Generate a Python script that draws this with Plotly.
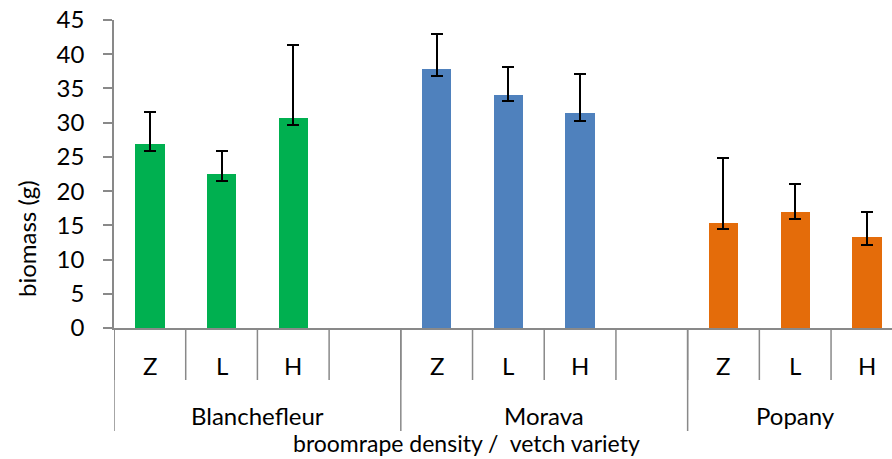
import plotly.graph_objects as go

# Mean shoot biomass (g) per vetch variety and broomrape density, with error ranges
varieties = ["Blanchefleur", "Morava", "Popany"]
densities = ["Z", "L", "H"]
colors = ["#00B050", "#4F81BD", "#E46C0A"]

biomass = {
    "Blanchefleur": [26.9, 22.5, 30.7],
    "Morava": [37.8, 34.1, 31.4],
    "Popany": [15.4, 17.0, 13.3],
}
err_plus = {
    "Blanchefleur": [4.7, 3.4, 10.7],
    "Morava": [5.1, 4.1, 5.7],
    "Popany": [9.5, 4.1, 3.7],
}
err_minus = {
    "Blanchefleur": [1.0, 1.0, 1.1],
    "Morava": [1.0, 1.0, 1.1],
    "Popany": [1.0, 1.1, 1.1],
}
y_ticks = [0, 5, 10, 15, 20, 25, 30, 35, 40, 45]

W, H = 892, 459
M_L, M_R, M_T, M_B = 114, 0, 20, 131
plot_h = H - M_T - M_B
plot_w = W - M_L - M_R
slots_per_group = len(densities) + 1  # one empty slot between varieties
n_slots = slots_per_group * (len(varieties) - 1) + len(densities)
x_min, x_max = -0.5, 10.35

GRAY = "#898989"
FONT = "Lato"
FS = 24


def py(pixel_y):
    """Pixel row -> paper y coordinate (relative to plot area)."""
    return (H - M_B - pixel_y) / plot_h


def px(pixel_x):
    """Pixel column -> paper x coordinate (relative to plot area)."""
    return (pixel_x - M_L) / plot_w


fig = go.Figure()

for vi, v in enumerate(varieties):
    xs = [vi * slots_per_group + di for di in range(len(densities))]
    fig.add_trace(go.Bar(
        x=xs,
        y=biomass[v],
        width=0.41,
        marker=dict(color=colors[vi], line=dict(width=0)),
        error_y=dict(type="data", symmetric=False,
                     array=err_plus[v], arrayminus=err_minus[v],
                     color="black", thickness=2, width=6),
        name=v,
        showlegend=False,
    ))

shapes = []
annotations = []

# Sub-category separators and labels
for k in range(n_slots + 1):
    shapes.append(dict(type="line", xref="x", yref="paper",
                       x0=k - 0.5, x1=k - 0.5, y0=0, y1=py(380),
                       line=dict(color=GRAY, width=1.5)))
for vi, v in enumerate(varieties):
    base = vi * slots_per_group
    for di, d in enumerate(densities):
        annotations.append(dict(x=base + di, y=py(365), xref="x", yref="paper",
                                text=d, showarrow=False,
                                font=dict(family=FONT, size=FS, color="black"),
                                xanchor="center", yanchor="middle"))
    # group extent: 4 slots, last group 3 slots
    n_in = slots_per_group if vi < len(varieties) - 1 else len(densities)
    center = base + (n_in - 1) / 2
    annotations.append(dict(x=center, y=py(416), xref="x", yref="paper",
                            text=v, showarrow=False,
                            font=dict(family=FONT, size=FS, color="black"),
                            xanchor="center", yanchor="middle"))
    shapes.append(dict(type="line", xref="x", yref="paper",
                       x0=base - 0.5, x1=base - 0.5, y0=0, y1=py(431),
                       line=dict(color=GRAY, width=1.5)))

# Axis titles
annotations.append(dict(x=px(466), y=py(458), xref="paper", yref="paper",
                        text="broomrape density / \u00a0vetch variety",
                        showarrow=False, borderpad=0,
                        font=dict(family=FONT, size=23, color="black"),
                        xanchor="center", yanchor="bottom"))
annotations.append(dict(x=px(26), y=py(239), xref="paper", yref="paper",
                        text="biomass (g)", textangle=-90, showarrow=False,
                        font=dict(family=FONT, size=FS, color="black"),
                        xanchor="center", yanchor="middle"))

fig.update_layout(
    width=W, height=H,
    margin=dict(l=M_L, r=M_R, t=M_T, b=M_B, pad=0),
    plot_bgcolor="white", paper_bgcolor="white",
    bargap=0,
    shapes=shapes,
    annotations=annotations,
    xaxis=dict(range=[x_min, x_max], showticklabels=False, ticks="",
               showgrid=False, zeroline=False,
               showline=True, linecolor=GRAY, linewidth=1.5),
    yaxis=dict(range=[0, 45], tickvals=y_ticks, ticks="outside",
               ticklen=9, tickcolor=GRAY, tickwidth=1.5,
               ticklabelstandoff=14,
               showgrid=False, zeroline=False,
               showline=True, linecolor=GRAY, linewidth=1.5,
               tickfont=dict(family=FONT, size=FS, color="black")),
)

fig.write_html("out.html")
